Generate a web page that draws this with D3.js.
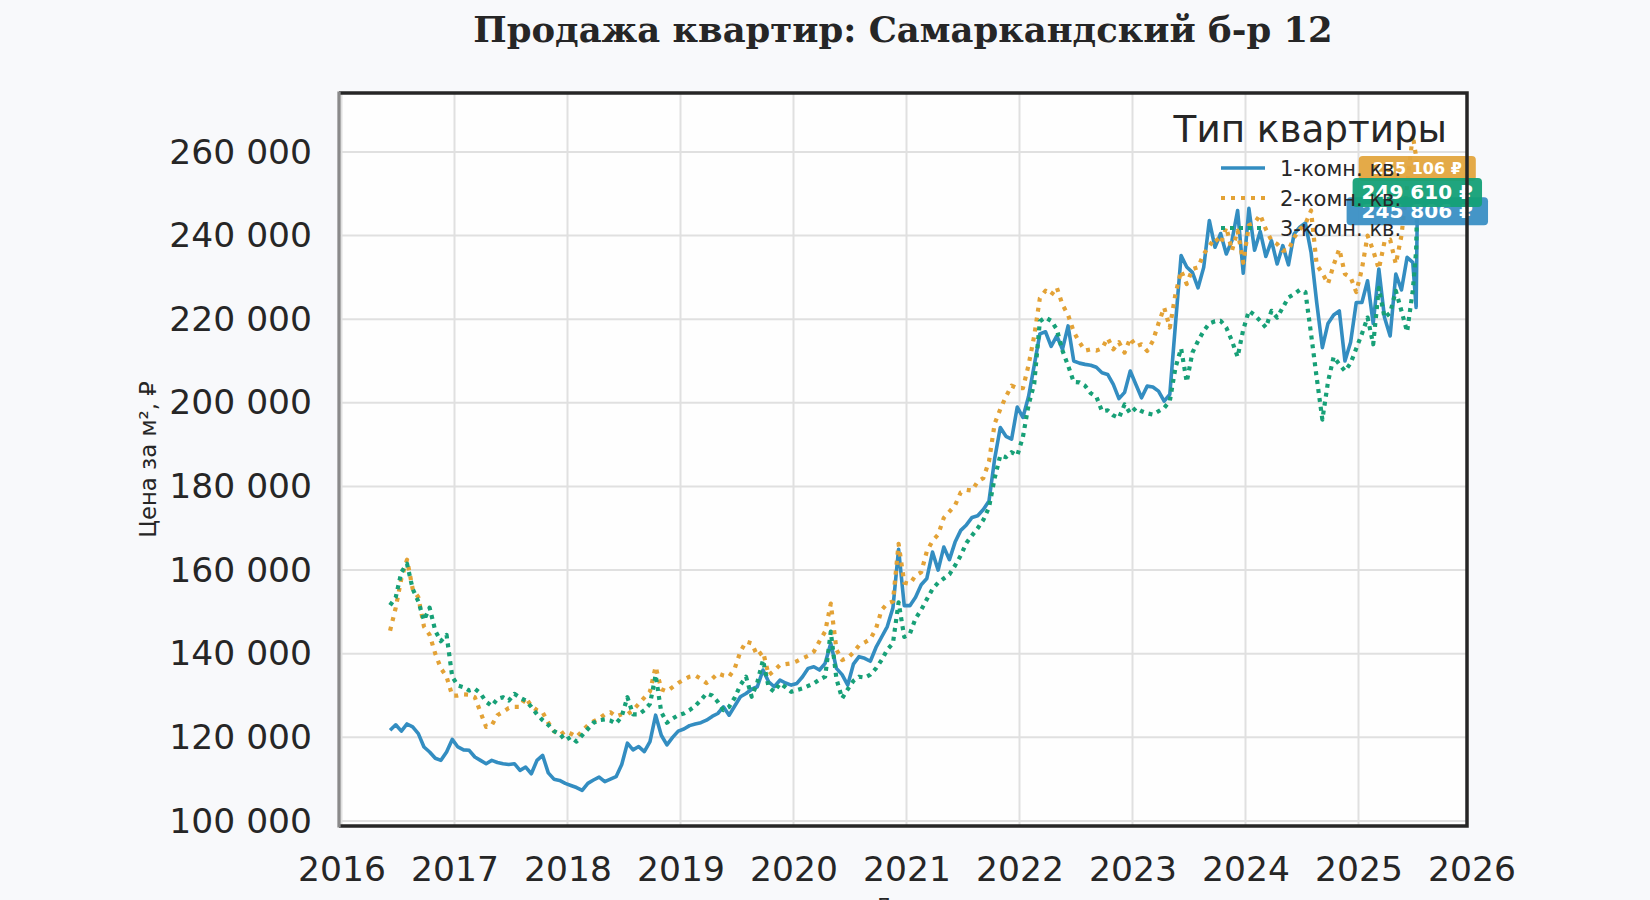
<!DOCTYPE html>
<html lang="ru">
<head>
<meta charset="utf-8">
<title>Продажа квартир: Самаркандский б-р 12</title>
<script src="https://cdn.jsdelivr.net/npm/d3@7"></script>
<style>
  html, body { margin: 0; padding: 0; background: #f8f9fb; }
  svg { display: block; font-family: "DejaVu Sans", sans-serif; }
</style>
</head>
<body>
<svg id="chart" width="1650" height="900"></svg>
<script>
// dates as decimal years, prices in thousand rubles per m2
const dates = [
  2016.43, 2016.48, 2016.53, 2016.58, 2016.63, 2016.68, 2016.73, 2016.78, 2016.83, 2016.88, 2016.93, 2016.98,
  2017.03, 2017.08, 2017.13, 2017.18, 2017.23, 2017.28, 2017.33, 2017.38, 2017.43, 2017.48, 2017.53, 2017.58, 2017.63, 2017.68, 2017.73, 2017.78, 2017.83, 2017.88, 2017.93, 2017.98,
  2018.03, 2018.08, 2018.13, 2018.18, 2018.23, 2018.28, 2018.33, 2018.38, 2018.43, 2018.48, 2018.53, 2018.58, 2018.63, 2018.68, 2018.73, 2018.78, 2018.83, 2018.88, 2018.93, 2018.98,
  2019.03, 2019.08, 2019.13, 2019.18, 2019.23, 2019.28, 2019.33, 2019.38, 2019.43, 2019.48, 2019.53, 2019.58, 2019.63, 2019.68, 2019.73, 2019.78, 2019.83, 2019.88, 2019.93, 2019.98,
  2020.03, 2020.08, 2020.13, 2020.18, 2020.23, 2020.28, 2020.33, 2020.38, 2020.43, 2020.48, 2020.53, 2020.58, 2020.63, 2020.68, 2020.73, 2020.78, 2020.83, 2020.88, 2020.93, 2020.98,
  2021.03, 2021.08, 2021.13, 2021.18, 2021.23, 2021.28, 2021.33, 2021.38, 2021.43, 2021.48, 2021.53, 2021.58, 2021.63, 2021.68, 2021.73, 2021.78, 2021.83, 2021.88, 2021.93, 2021.98,
  2022.03, 2022.08, 2022.13, 2022.18, 2022.23, 2022.28, 2022.33, 2022.38, 2022.43, 2022.48, 2022.53, 2022.58, 2022.63, 2022.68, 2022.73, 2022.78, 2022.83, 2022.88, 2022.93, 2022.98,
  2023.03, 2023.08, 2023.13, 2023.18, 2023.23, 2023.28, 2023.33, 2023.38, 2023.43, 2023.48, 2023.53, 2023.58, 2023.63, 2023.68, 2023.73, 2023.78, 2023.83, 2023.88, 2023.93, 2023.98,
  2024.03, 2024.08, 2024.13, 2024.18, 2024.23, 2024.28, 2024.33, 2024.38, 2024.43, 2024.48, 2024.53, 2024.58, 2024.63, 2024.68, 2024.73, 2024.78, 2024.83, 2024.88, 2024.93, 2024.98,
  2025.03, 2025.08, 2025.13, 2025.18, 2025.23, 2025.28, 2025.33, 2025.38, 2025.43, 2025.48, 2025.51, 2025.52
];

const rooms1 = [
  121.7, 123.0, 121.5, 123.2, 122.5, 120.9, 117.7, 116.5, 115.0, 114.5, 116.5, 119.5,
  117.7, 117.0, 116.9, 115.3, 114.5, 113.7, 114.5, 114.0, 113.7, 113.5, 113.7, 112.1, 112.9, 111.3, 114.5, 115.7, 111.5, 110.0, 109.7, 109.0,
  108.5, 108.0, 107.3, 109.0, 109.8, 110.5, 109.4, 110.0, 110.6, 113.5, 118.6, 117.0, 117.8, 116.6, 119.0, 125.3, 120.5, 118.2, 120.0, 121.5,
  122.0, 122.8, 123.2, 123.5, 124.1, 125.0, 125.7, 127.3, 125.3, 127.5, 129.7, 130.5, 131.5, 132.1, 136.1, 133.3, 132.1, 133.7, 133.0, 132.5,
  132.9, 134.5, 136.5, 136.9, 136.1, 137.7, 142.5, 136.5, 135.0, 132.5, 137.5, 139.3, 138.9, 138.2, 141.5, 144.0, 146.5, 151.0, 165.0, 151.5,
  151.5, 153.5, 156.5, 158.0, 164.3, 160.0, 165.5, 162.5, 166.7, 169.5, 170.8, 172.6, 173.0, 174.5, 176.5, 186.6, 194.1, 192.0, 191.3, 199.0,
  196.5, 201.5, 208.9, 216.5, 217.0, 213.5, 216.0, 212.8, 218.4, 210.0, 209.5, 209.2, 209.0, 208.5, 207.2, 206.8, 204.4, 201.0, 202.5, 207.6,
  204.4, 201.2, 204.0, 203.8, 202.8, 200.4, 202.0, 218.8, 235.2, 232.5, 231.2, 227.5, 232.4, 243.6, 237.2, 240.5, 235.6, 238.8, 246.0, 231.0,
  246.5, 236.5, 241.0, 235.0, 238.8, 233.2, 237.6, 233.0, 240.4, 242.0, 243.0, 236.0, 224.0, 213.2, 219.0, 221.0, 222.0, 210.0, 214.5, 224.0,
  224.0, 229.2, 219.0, 232.0, 220.4, 216.0, 230.8, 227.0, 234.8, 233.6, 222.8, 245.806
];

const rooms2 = [
  145.5, 151.0, 158.0, 162.5, 155.5, 153.5, 146.5, 144.5, 140.0, 136.5, 134.5, 130.0,
  130.0, 130.3, 130.2, 129.6, 126.0, 122.5, 122.9, 125.3, 126.1, 127.0, 127.3, 127.3, 129.5, 127.5, 126.5, 126.0, 123.5, 121.5, 120.5, 121.5,
  120.9, 120.1, 121.5, 122.9, 123.8, 124.5, 125.5, 126.0, 125.0, 125.5, 125.5, 126.5, 128.0, 129.5, 131.0, 136.9, 131.5, 131.0, 132.0, 133.0,
  133.8, 134.5, 134.8, 134.0, 133.0, 134.0, 135.3, 134.8, 134.5, 136.5, 140.5, 142.9, 142.5, 139.5, 140.5, 134.9, 136.0, 137.3, 137.5, 137.7,
  138.2, 138.9, 139.5, 140.5, 143.0, 145.3, 152.0, 141.0, 138.5, 139.0, 140.3, 142.0, 142.7, 143.5, 146.0, 150.5, 152.0, 152.5, 166.3, 157.0,
  156.7, 158.7, 159.5, 164.5, 167.0, 168.5, 172.5, 174.0, 175.5, 178.6, 179.2, 179.0, 181.2, 182.0, 186.0, 195.0, 198.5, 201.5, 204.1, 203.5,
  203.5, 209.0, 216.0, 225.0, 226.8, 225.8, 227.6, 223.5, 221.0, 217.0, 214.5, 212.5, 212.8, 212.5, 213.0, 215.5, 212.8, 214.5, 212.0, 215.5,
  213.5, 214.0, 212.4, 214.8, 219.0, 222.8, 218.0, 226.0, 231.6, 228.4, 232.0, 232.4, 235.6, 237.5, 239.5, 238.0, 242.0, 236.4, 241.2, 233.5,
  242.5, 243.0, 245.0, 241.5, 238.8, 238.0, 236.4, 236.5, 239.5, 241.5, 242.8, 246.0, 233.0, 231.0, 228.5, 233.0, 236.8, 230.8, 230.0, 226.5,
  232.0, 240.0, 236.4, 232.0, 238.5, 239.0, 233.2, 240.0, 252.0, 264.0, 258.8, 255.106
];

const rooms3 = [
  151.6, 153.5, 159.5, 161.5, 155.5, 152.5, 148.0, 151.0, 145.5, 143.0, 144.5, 134.5,
  132.4, 132.0, 131.2, 131.6, 130.5, 128.5, 127.5, 129.2, 129.6, 128.8, 130.4, 129.5, 128.8, 127.3, 125.5, 124.1, 123.0, 121.5, 120.9, 119.3,
  120.1, 119.0, 120.5, 122.0, 123.5, 124.1, 124.3, 124.0, 123.3, 125.0, 129.6, 125.5, 125.5, 126.5, 128.0, 134.9, 126.0, 123.5, 124.5, 125.3,
  125.7, 126.5, 127.5, 128.9, 130.5, 130.0, 128.5, 126.5, 127.3, 129.5, 132.5, 134.5, 129.7, 133.2, 138.5, 132.0, 130.9, 132.9, 132.0, 130.9,
  131.3, 131.7, 132.3, 132.9, 133.8, 134.5, 145.3, 134.0, 129.3, 131.5, 133.5, 134.5, 134.3, 135.0, 136.5, 138.5, 141.0, 142.5, 152.3, 144.0,
  144.8, 148.4, 150.5, 153.0, 155.5, 157.0, 158.0, 159.0, 161.1, 163.5, 166.5, 168.3, 170.0, 172.0, 175.0, 182.0, 187.4, 187.0, 188.2, 187.4,
  191.8, 199.5, 204.5, 219.5, 220.4, 219.6, 217.6, 212.5, 208.9, 205.0, 204.9, 204.1, 202.3, 201.5, 198.0, 198.2, 197.0, 196.4, 199.6, 197.5,
  198.8, 198.0, 197.5, 197.2, 198.0, 198.8, 200.4, 208.4, 213.0, 205.0, 212.0, 214.8, 217.2, 219.0, 219.5, 219.6, 218.0, 214.8, 211.0, 217.5,
  222.0, 221.0, 219.6, 218.0, 222.0, 220.4, 222.8, 225.2, 226.0, 227.0, 226.5, 216.5, 206.0, 196.0, 205.0, 211.0, 209.2, 207.6, 209.5, 213.0,
  216.5, 220.4, 214.0, 227.5, 220.4, 221.5, 226.8, 222.0, 217.0, 226.8, 236.4, 249.61
];

const seriesNames = ["1-комн. кв.", "2-комн. кв.", "3-комн. кв."];
const lastPrices = [245806, 255106, 249610];
const yearTicks = [2016, 2017, 2018, 2019, 2020, 2021, 2022, 2023, 2024, 2025, 2026];
const priceTicks = [100, 120, 140, 160, 180, 200, 220, 240, 260];

const svg = d3.select("#chart");
const W = 1650, H = 900;
const plot = {left: 339, right: 1467, top: 93, bottom: 826};
const ink = "#262626";

const ru = d3.formatLocale({decimal: ",", thousands: "\u00a0", grouping: [3], currency: ["", " ₽"]});
const fmt = ru.format(",d");

const x = d3.scaleLinear().domain([2015.978, 2025.96]).range([plot.left, plot.right]);
const y = d3.scaleLinear().domain([98.8, 274.1]).range([plot.bottom, plot.top]);

const styles = [
  {color: "#338dc1", width: 3.6, dash: null},
  {color: "#e3a236", width: 4.2, dash: "4,6"},
  {color: "#17a077", width: 4.2, dash: "4,5"}
];
const labelStyle = [
  {fill: "#3a8fc4", size: 20, padX: 15, h: 28, dy: 0},
  {fill: "#e3a53e", size: 16, padX: 14, h: 25, dy: -4},
  {fill: "#14a077", size: 20, padX: 9, h: 29, dy: -3}
];

svg.append("rect").attr("width", W).attr("height", H).attr("fill", "#f8f9fb");
svg.append("rect")
  .attr("x", plot.left).attr("y", plot.top)
  .attr("width", plot.right - plot.left).attr("height", plot.bottom - plot.top)
  .attr("fill", "#fefefe");

svg.append("defs").append("clipPath").attr("id", "plotclip")
  .append("rect")
  .attr("x", plot.left).attr("y", plot.top)
  .attr("width", plot.right - plot.left).attr("height", plot.bottom - plot.top);

// grid
const grid = svg.append("g").attr("clip-path", "url(#plotclip)")
  .attr("stroke", "#e0e0e0").attr("stroke-width", 2);
grid.selectAll("line.vx").data(yearTicks).join("line")
  .attr("x1", d => x(d)).attr("x2", d => x(d))
  .attr("y1", plot.top).attr("y2", plot.bottom);
grid.selectAll("line.hy").data(priceTicks).join("line")
  .attr("x1", plot.left).attr("x2", plot.right)
  .attr("y1", d => y(d)).attr("y2", d => y(d));

// axes
const yAxis = svg.append("g")
  .attr("transform", `translate(${plot.left},0)`)
  .call(d3.axisLeft(y).tickValues(priceTicks).tickSize(0).tickPadding(27)
    .tickFormat(d => fmt(d * 1000)))
  .call(g => g.select(".domain").remove());
yAxis.selectAll("text").attr("font-size", 34.5).attr("fill", ink)
  .attr("font-family", "DejaVu Sans");

const xAxis = svg.append("g")
  .attr("transform", `translate(0,${plot.bottom})`)
  .call(d3.axisBottom(x).tickValues(yearTicks).tickSize(0).tickPadding(31)
    .tickFormat(d3.format("d")))
  .call(g => g.select(".domain").remove());
xAxis.selectAll("text").attr("font-size", 34.5).attr("fill", ink)
  .attr("font-family", "DejaVu Sans");

// lines
const series = [rooms1, rooms2, rooms3];
const line = d3.line()
  .x((d, i) => x(dates[i]))
  .y(d => y(d));

const lines = svg.append("g").attr("clip-path", "url(#plotclip)");
series.forEach((s, k) => {
  lines.append("path")
    .datum(s)
    .attr("fill", "none")
    .attr("stroke", styles[k].color)
    .attr("stroke-width", styles[k].width)
    .attr("stroke-dasharray", styles[k].dash)
    .attr("stroke-linejoin", "round")
    .attr("d", line);
});

// last value labels
const labels = svg.append("g");
const lastX = x(dates[dates.length - 1]);
lastPrices.forEach((p, k) => {
  const st = labelStyle[k];
  const g = labels.append("g").attr("transform", `translate(${lastX},${y(p / 1000) + st.dy})`);
  const rect = g.append("rect").attr("rx", 4).attr("fill", st.fill).attr("opacity", 0.95);
  const t = g.append("text")
    .attr("text-anchor", "middle")
    .attr("dominant-baseline", "central")
    .attr("font-size", st.size)
    .attr("font-weight", "bold")
    .attr("fill", "#ffffff")
    .text(fmt(p) + " ₽");
  const bb = t.node().getBBox();
  rect.attr("x", bb.x - st.padX).attr("width", bb.width + 2 * st.padX)
    .attr("y", -st.h / 2).attr("height", st.h);
});

// spines
const spines = svg.append("g").attr("fill", "none");
spines.append("path")
  .attr("d", `M${plot.left},${plot.top}H${plot.right}V${plot.bottom}H${plot.left}`)
  .attr("stroke", ink).attr("stroke-width", 3.5);
spines.append("line")
  .attr("x1", plot.left).attr("x2", plot.left)
  .attr("y1", plot.top - 1.5).attr("y2", plot.bottom + 1.5)
  .attr("stroke", "#8a8a8a").attr("stroke-width", 3.3);

// legend
const legend = svg.append("g");
legend.append("text")
  .attr("x", 1447).attr("y", 142)
  .attr("text-anchor", "end")
  .attr("font-size", 37.3)
  .attr("fill", ink)
  .text("Тип квартиры");
seriesNames.forEach((name, k) => {
  const ly = 168 + k * 30;
  legend.append("line")
    .attr("x1", 1221).attr("x2", 1265)
    .attr("y1", ly).attr("y2", ly)
    .attr("stroke", styles[k].color)
    .attr("stroke-width", styles[k].width)
    .attr("stroke-dasharray", styles[k].dash);
  legend.append("text")
    .attr("x", 1280).attr("y", ly + 8)
    .attr("font-size", 21)
    .attr("fill", ink)
    .text(name);
});

// titles
svg.append("text")
  .attr("x", (plot.left + plot.right) / 2).attr("y", 42)
  .attr("text-anchor", "middle")
  .attr("font-family", "DejaVu Serif")
  .attr("font-weight", "bold")
  .attr("font-size", 35.4)
  .attr("fill", ink)
  .text("Продажа квартир: Самаркандский б-р 12");

svg.append("text")
  .attr("transform", `translate(148,${(plot.top + plot.bottom) / 2}) rotate(-90)`)
  .attr("text-anchor", "middle")
  .attr("dominant-baseline", "central")
  .attr("font-size", 22.8)
  .attr("fill", ink)
  .text("Цена за м², ₽");

svg.append("text")
  .attr("x", (plot.left + plot.right) / 2).attr("y", 914)
  .attr("text-anchor", "middle")
  .attr("font-size", 22)
  .attr("fill", ink)
  .text("Дата");
</script>
</body>
</html>
